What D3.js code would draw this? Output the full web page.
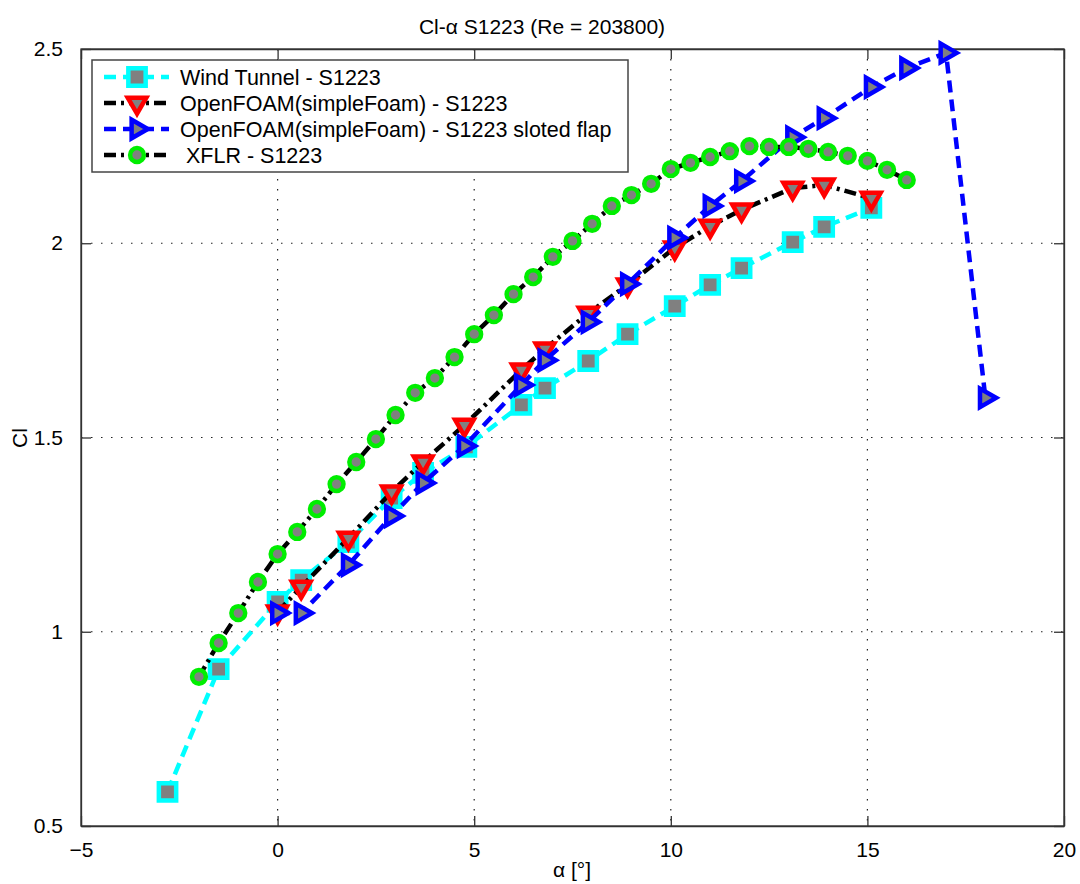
<!DOCTYPE html>
<html>
<head>
<meta charset="utf-8">
<script src="https://cdn.jsdelivr.net/npm/d3@7"></script>
<style>
  body { margin: 0; background: #fff; }
  svg text { font-family: "Liberation Sans", Arial, sans-serif; fill: #000; }
</style>
</head>
<body>
<svg id="chart" width="1080" height="884"></svg>
<script>
// values
const windAlpha = [-2.8, -1.5, 0, 0.6, 1.8, 2.9, 3.7, 4.8, 6.2, 6.8, 7.9, 8.9, 10.1, 11.0, 11.8, 13.1, 13.9, 15.1];
const windCl = [0.588, 0.904, 1.077, 1.133, 1.231, 1.344, 1.409, 1.476, 1.584, 1.627, 1.697, 1.766, 1.838, 1.893, 1.936, 2.003, 2.042, 2.091];

const foamAlpha = [0, 0.6, 1.8, 2.9, 3.7, 4.75, 6.2, 6.8, 7.9, 8.9, 10.1, 11.0, 11.8, 13.1, 13.9, 15.1];
const foamCl = [1.051, 1.115, 1.241, 1.360, 1.437, 1.532, 1.674, 1.728, 1.820, 1.893, 1.988, 2.044, 2.086, 2.142, 2.150, 2.116];

const flapAlpha = [0, 0.6, 1.8, 2.9, 3.7, 4.75, 6.2, 6.8, 7.9, 8.9, 10.1, 11.0, 11.8, 13.1, 13.9, 15.1, 16, 17, 18];
const flapCl = [1.048, 1.048, 1.172, 1.298, 1.383, 1.478, 1.635, 1.699, 1.797, 1.895, 2.014, 2.096, 2.160, 2.273, 2.322, 2.402, 2.451, 2.490, 1.602];

const xflrAlpha = [-2, -1.5, -1, -0.5, 0, 0.5, 1, 1.5, 2, 2.5, 3, 3.5, 4, 4.5, 5, 5.5, 6, 6.5, 7,
  7.5, 8, 8.5, 9, 9.5, 10, 10.5, 11, 11.5, 12, 12.5, 13, 13.5, 14, 14.5, 15, 15.5, 16];
const xflrCl = [0.884, 0.971, 1.048, 1.128, 1.200, 1.257, 1.316, 1.380, 1.437, 1.496, 1.558, 1.615, 1.653,
  1.707, 1.766, 1.815, 1.869, 1.913, 1.965, 2.006, 2.050, 2.096, 2.124, 2.153, 2.191, 2.207, 2.222,
  2.237, 2.250, 2.248, 2.248, 2.243, 2.235, 2.225, 2.212, 2.189, 2.163];

const xTicks = [-5, 0, 5, 10, 15, 20];
const yTicks = [0.5, 1, 1.5, 2, 2.5];
const legendLabels = ["Wind Tunnel - S1223", "OpenFOAM(simpleFoam) - S1223",
  "OpenFOAM(simpleFoam) - S1223 sloted flap", " XFLR - S1223"];

const series = [
  { alpha: windAlpha, cl: windCl, line: "#00ffff", dash: "12,7", edge: "#00ffff", shape: "square" },
  { alpha: foamAlpha, cl: foamCl, line: "#000", dash: "12,5,3,5", edge: "#ff0000", shape: "down" },
  { alpha: flapAlpha, cl: flapCl, line: "#0000ff", dash: "12,7", edge: "#0000ff", shape: "right" },
  { alpha: xflrAlpha, cl: xflrCl, line: "#000", dash: "12,5,3,5", edge: "#00ee00", shape: "circle" }
];

const svg = d3.select("#chart");
const plot = { left: 81, right: 1064, top: 49, bottom: 826 };

const x = d3.scaleLinear().domain([-5, 20]).range([plot.left, plot.right]);
const y = d3.scaleLinear().domain([0.5, 2.5]).range([plot.bottom, plot.top]);

// grid
const grid = svg.append("g")
  .attr("stroke", "#222")
  .attr("stroke-width", 1.2)
  .attr("stroke-dasharray", "1.5,8.5");
grid.selectAll(".gx").data(xTicks.slice(1, -1)).join("line")
  .attr("x1", d => x(d)).attr("x2", d => x(d))
  .attr("y1", plot.top).attr("y2", plot.bottom);
grid.selectAll(".gy").data(yTicks.slice(1, -1)).join("line")
  .attr("x1", plot.left).attr("x2", plot.right)
  .attr("y1", d => y(d)).attr("y2", d => y(d));

// axes: bottom/left with labels, top/right mirrored ticks
const tickLen = 10;
svg.append("g")
  .attr("transform", `translate(0,${plot.bottom})`)
  .call(d3.axisBottom(x).tickValues(xTicks).tickSizeInner(-tickLen).tickSizeOuter(0).tickPadding(16))
  .call(g => g.selectAll("text").attr("font-size", 21));
svg.append("g")
  .attr("transform", `translate(0,${plot.top})`)
  .call(d3.axisTop(x).tickValues(xTicks).tickSizeInner(-tickLen).tickSizeOuter(0).tickFormat(""));
svg.append("g")
  .attr("transform", `translate(${plot.left},0)`)
  .call(d3.axisLeft(y).tickValues(yTicks).tickSizeInner(-tickLen).tickSizeOuter(0).tickPadding(18).tickFormat(d3.format("")))
  .call(g => g.selectAll("text").attr("font-size", 21));
svg.append("g")
  .attr("transform", `translate(${plot.right},0)`)
  .call(d3.axisRight(y).tickValues(yTicks).tickSizeInner(-tickLen).tickSizeOuter(0).tickFormat(""));
svg.selectAll(".domain, .tick line").attr("stroke", "#333").attr("stroke-width", 1.3);

svg.append("rect")
  .attr("x", plot.left).attr("y", plot.top)
  .attr("width", plot.right - plot.left).attr("height", plot.bottom - plot.top)
  .attr("fill", "none").attr("stroke", "#333").attr("stroke-width", 1.3);

// markers
const sym = {
  square: d3.symbol().type(d3.symbolSquare).size(300)(),
  down: d3.symbol().type(d3.symbolTriangle).size(150)(),
  right: d3.symbol().type(d3.symbolTriangle).size(150)(),
  circle: d3.symbol().type(d3.symbolCircle).size(150)()
};
const rot = { square: 0, down: 180, right: 90, circle: 0 };

function drawMarker(g, s, cx, cy) {
  g.append("path")
    .attr("d", sym[s.shape])
    .attr("transform", `translate(${cx},${cy}) rotate(${rot[s.shape]})`)
    .attr("fill", "#808080")
    .attr("stroke", s.edge)
    .attr("stroke-width", 4.5)
    .attr("stroke-linejoin", "miter");
}

const line = d3.line().x(d => x(d[0])).y(d => y(d[1]));

series.forEach(s => {
  const pts = s.alpha.map((a, i) => [a, s.cl[i]]);
  const g = svg.append("g");
  g.append("path")
    .attr("d", line(pts))
    .attr("fill", "none")
    .attr("stroke", s.line)
    .attr("stroke-width", 4.5)
    .attr("stroke-dasharray", s.dash);
  pts.forEach(p => drawMarker(g, s, x(p[0]), y(p[1])));
});

// legend
const lg = svg.append("g");
lg.append("rect")
  .attr("x", 92).attr("y", 60).attr("width", 536).attr("height", 112)
  .attr("fill", "#fff").attr("stroke", "#444").attr("stroke-width", 1.5);
const rowY = [77, 103, 129, 155];
series.forEach((s, i) => {
  lg.append("line")
    .attr("x1", 104).attr("x2", 169).attr("y1", rowY[i]).attr("y2", rowY[i])
    .attr("stroke", s.line).attr("stroke-width", 4.5)
    .attr("stroke-dasharray", s.dash);
  drawMarker(lg, s, 137, rowY[i]);
  lg.append("text")
    .attr("x", 180).attr("y", rowY[i] + 7.5)
    .attr("font-size", 21.5)
    .attr("xml:space", "preserve")
    .text(legendLabels[i]);
});

// titles
svg.append("text")
  .attr("x", 542).attr("y", 34)
  .attr("text-anchor", "middle")
  .attr("font-size", 21)
  .text("Cl-α S1223 (Re = 203800)");
svg.append("text")
  .attr("x", 572).attr("y", 877)
  .attr("text-anchor", "middle")
  .attr("font-size", 21)
  .text("α [°]");
svg.append("text")
  .attr("transform", `translate(27,438) rotate(-90)`)
  .attr("text-anchor", "middle")
  .attr("font-size", 21)
  .text("Cl");
</script>
</body>
</html>
